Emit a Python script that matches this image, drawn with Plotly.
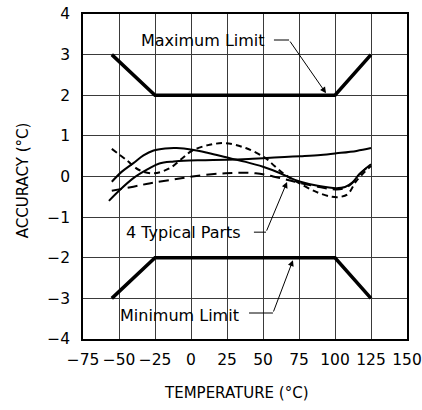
import plotly.graph_objects as go

# ---- data ----
limit_temp = [-55, -25, 100, 125]
max_limit = [3, 2, 2, 3]
min_limit = [-3, -2, -2, -3]

partA_temp = [-55, -48, -40, -33, -26, -18, -10, 1, 12, 27, 38, 50, 62, 68, 76, 88, 101, 107, 112, 117, 125]
partA_acc = [-0.13, 0.12, 0.33, 0.52, 0.64, 0.69, 0.70, 0.66, 0.58, 0.45, 0.36, 0.24, 0.08, -0.02, -0.13, -0.23, -0.29, -0.26, -0.15, 0.06, 0.30]

partB_temp = [-57, -50, -40, -30, -22, -12, -5, 10, 25, 40, 50, 65, 76, 90, 101, 115, 125]
partB_acc = [-0.60, -0.35, -0.04, 0.18, 0.32, 0.37, 0.39, 0.40, 0.41, 0.43, 0.45, 0.48, 0.50, 0.53, 0.57, 0.63, 0.70]

partC_temp = [-55, -45, -36, -26, -15, -6, 1, 13, 24, 38, 51, 58, 64, 70, 76, 87, 98, 104, 109, 115, 125]
partC_acc = [0.68, 0.41, 0.16, 0.08, 0.20, 0.45, 0.64, 0.78, 0.82, 0.70, 0.47, 0.26, 0.08, -0.06, -0.18, -0.38, -0.50, -0.50, -0.43, -0.10, 0.26]

partD_temp = [-55, -40, -29, -15, 1, 24, 45, 57, 68, 76, 88, 95, 101, 107, 112, 117, 125]
partD_acc = [-0.35, -0.25, -0.17, -0.09, 0.00, 0.08, 0.08, 0.00, -0.09, -0.16, -0.25, -0.30, -0.32, -0.28, -0.16, 0.05, 0.30]

x_ticks = [-75, -50, -25, 0, 25, 50, 75, 100, 125, 150]
y_ticks = [-4, -3, -2, -1, 0, 1, 2, 3, 4]


def tick_label(v):
    return str(v).replace("-", "\u2212")


FONT = "DejaVu Sans"

fig = go.Figure()

fig.add_trace(go.Scatter(x=limit_temp, y=max_limit, mode="lines",
                         line=dict(color="black", width=3.5), showlegend=False))
fig.add_trace(go.Scatter(x=limit_temp, y=min_limit, mode="lines",
                         line=dict(color="black", width=3.5), showlegend=False))

fig.add_trace(go.Scatter(x=partA_temp, y=partA_acc, mode="lines",
                         line=dict(color="black", width=2, shape="spline"), showlegend=False))
fig.add_trace(go.Scatter(x=partB_temp, y=partB_acc, mode="lines",
                         line=dict(color="black", width=2, shape="spline"), showlegend=False))
fig.add_trace(go.Scatter(x=partC_temp, y=partC_acc, mode="lines",
                         line=dict(color="black", width=2, shape="spline", dash="6px,4px"), showlegend=False))
fig.add_trace(go.Scatter(x=partD_temp, y=partD_acc, mode="lines",
                         line=dict(color="black", width=2, shape="spline", dash="10px,6px"), showlegend=False))

axis_common = dict(
    showgrid=True, gridcolor="#3a3a3a", gridwidth=1,
    showline=True, linecolor="black", linewidth=1.5, mirror=True,
    zeroline=False, ticks="", tickfont=dict(family=FONT, size=15.5, color="black"),
    ticklabeloverflow="allow", automargin=False, tickangle=0,
)

fig.update_xaxes(range=[-75, 150], tickmode="array", tickvals=x_ticks,
                 ticktext=[tick_label(v) for v in x_ticks], ticklabelstandoff=6, **axis_common)
fig.update_yaxes(range=[-4, 4], tickmode="array", tickvals=y_ticks,
                 ticktext=[tick_label(v) for v in y_ticks], ticklabelstandoff=8, **axis_common)

ann_font = dict(family=FONT, size=16, color="black")
annotations = [
    # axis titles
    dict(text="TEMPERATURE (°C)", xref="paper", yref="paper", x=0.474, y=-0.166,
         showarrow=False, font=dict(family=FONT, size=15, color="black"),
         xanchor="center", yanchor="middle"),
    dict(text="ACCURACY (°C)", xref="paper", yref="paper", x=-0.185, y=0.489,
         showarrow=False, textangle=-90, font=dict(family=FONT, size=15, color="black"),
         xanchor="center", yanchor="middle"),
    # labels
    dict(text="Maximum Limit", x=8.0, y=3.36, showarrow=False, font=ann_font,
         xanchor="center", yanchor="middle"),
    dict(text="4 Typical Parts", x=-4.9, y=-1.37, showarrow=False, font=ann_font,
         xanchor="center", yanchor="middle"),
    dict(text="Minimum Limit", x=-8.3, y=-3.42, showarrow=False, font=ann_font,
         xanchor="center", yanchor="middle"),
    # arrows
    dict(x=93.75, y=2.05, ax=68.1, ay=3.36, axref="x", ayref="y", text="",
         showarrow=True, arrowhead=2, arrowsize=1.2, arrowwidth=1, arrowcolor="black"),
    dict(x=66.7, y=-0.135, ax=52.1, ay=-1.37, axref="x", ayref="y", text="",
         showarrow=True, arrowhead=2, arrowsize=1.2, arrowwidth=1, arrowcolor="black"),
    dict(x=70.8, y=-2.06, ax=56.9, ay=-3.36, axref="x", ayref="y", text="",
         showarrow=True, arrowhead=2, arrowsize=1.2, arrowwidth=1, arrowcolor="black"),
]

shapes = [
    dict(type="line", xref="x", yref="y", x0=57.6, x1=68.1, y0=3.36, y1=3.36,
         line=dict(color="black", width=1)),
    dict(type="line", xref="x", yref="y", x0=43.7, x1=52.1, y0=-1.37, y1=-1.37,
         line=dict(color="black", width=1)),
    dict(type="line", xref="x", yref="y", x0=40.3, x1=56.9, y0=-3.36, y1=-3.36,
         line=dict(color="black", width=1)),
]

fig.update_layout(
    width=422, height=410,
    margin=dict(l=83, r=15, t=14, b=71),
    paper_bgcolor="white", plot_bgcolor="white",
    annotations=annotations, shapes=shapes,
    showlegend=False,
)

fig.write_html("out.html")
